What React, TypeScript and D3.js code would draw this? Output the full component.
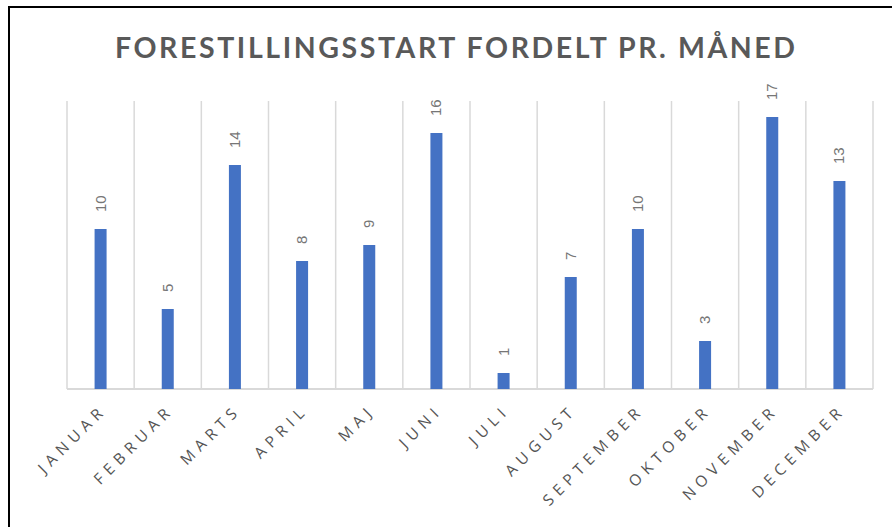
import React from "react";
import * as d3 from "d3";

const months = ["JANUAR","FEBRUAR","MARTS","APRIL","MAJ","JUNI","JULI","AUGUST","SEPTEMBER","OKTOBER","NOVEMBER","DECEMBER"];
const counts = [10,5,14,8,9,16,1,7,10,3,17,13];
const title = "FORESTILLINGSSTART FORDELT PR. MÅNED";

const W = 892, H = 527;
const left = 67, right = 873, top = 101, bottom = 389;

export default function App() {
  const x = d3.scaleBand<string>().domain(months).range([left, right]).padding(0);
  const y = d3.scaleLinear().domain([0, 18]).range([bottom, top]);
  const barW = 12;
  const grid = d3.range(months.length + 1).map(i => left + i * x.step());
  return (
    <svg width={W} height={H} style={{ position: "absolute", left: 0, top: 0, background: "#fff" }}>
      <rect x={0} y={0} width={W} height={H} fill="#fff" />
      <rect x={9} y={7} width={W + 10} height={H + 10} fill="#fff" stroke="#000" strokeWidth={2} />
      <text x={115} y={58} textAnchor="start" fontFamily="Lato, 'Open Sans', sans-serif" fontWeight={700}
        fontSize={28.5} fill="#595959" textLength={680} lengthAdjust="spacing">{title}</text>
      {grid.map((gx, i) => (
        <line key={i} x1={gx} x2={gx} y1={top} y2={bottom} stroke="#d9d9d9" strokeWidth={1.5} />
      ))}
      <line x1={left} x2={right} y1={bottom} y2={bottom} stroke="#d9d9d9" strokeWidth={2} />
      {months.map((m, i) => {
        const cx = (x(m) as number) + x.bandwidth() / 2;
        const yt = y(counts[i]);
        return (
          <g key={m}>
            <rect x={cx - barW / 2} y={yt} width={barW} height={bottom - yt} fill="#4472C4" />
            <text transform={`translate(${cx + 5},${yt - 17}) rotate(-90)`} fontFamily="'Liberation Sans', sans-serif"
              fontSize={15} fill="#767676">{counts[i]}</text>
            <text transform={`translate(${cx + 7},${411}) rotate(-45)`} textAnchor="end"
              fontFamily="'Open Sans', sans-serif" fontSize={15.5} letterSpacing={5.5} fill="#555">{m}</text>
          </g>
        );
      })}
    </svg>
  );
}
